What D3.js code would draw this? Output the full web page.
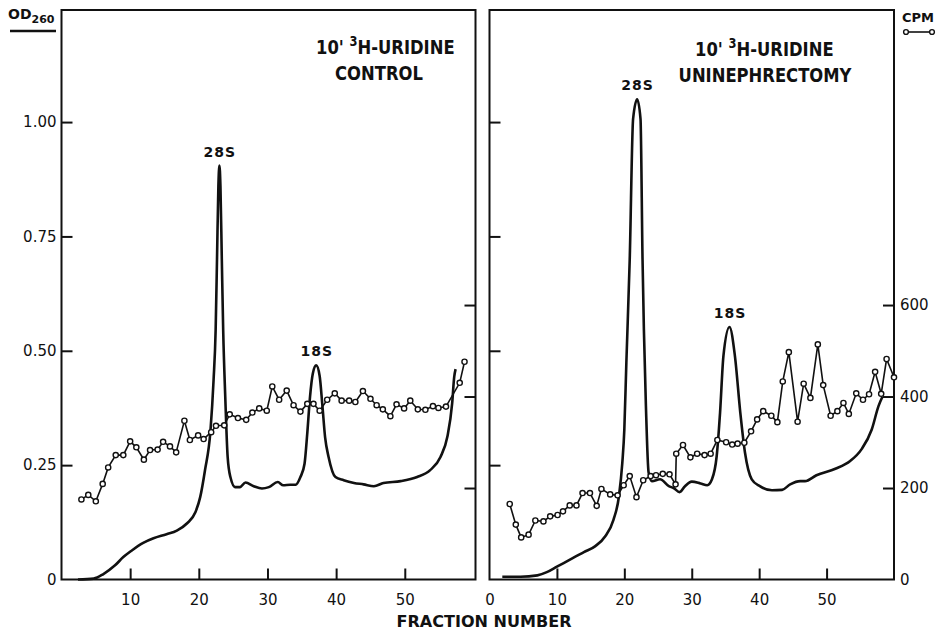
<!DOCTYPE html>
<html>
<head>
<meta charset="utf-8">
<script src="https://cdn.jsdelivr.net/npm/d3@7"></script>
<style>
  html, body { margin: 0; padding: 0; background: #fff; }
  svg { display: block; }
  text { fill: #111; }
</style>
</head>
<body>
<svg id="chart" width="941" height="632"></svg>
<script>
// ---------------- DATA ----------------
// Control panel, OD260 trace: [fraction, OD]
const controlOD = [
  [2.4,0.000],[4.7,0.002],[6.1,0.012],[7.8,0.031],[9.0,0.049],[10.2,0.063],[11.9,0.080],
  [13.4,0.090],[15.3,0.099],[16.8,0.107],[18.3,0.123],[19.5,0.147],[20.2,0.180],[20.9,0.239],
  [21.7,0.326],[22.15,0.436],[22.45,0.545],[22.65,0.700],[22.85,0.860],[23.0,0.905],
  [23.15,0.860],[23.35,0.700],[23.55,0.545],[23.85,0.400],[24.2,0.268],[24.6,0.224],
  [25.3,0.202],[26.0,0.202],[26.8,0.212],[28.0,0.204],[29.2,0.199],[30.2,0.202],[31.5,0.213],
  [32.3,0.206],[33.3,0.207],[34.1,0.207],[34.8,0.224],[35.4,0.253],[35.8,0.320],[36.2,0.400],
  [36.6,0.450],[37.1,0.468],[37.6,0.445],[38.0,0.380],[38.4,0.310],[38.9,0.268],[39.9,0.224],
  [41.1,0.217],[42.6,0.211],[44.0,0.208],[45.5,0.204],[46.9,0.211],[49.4,0.215],[51.8,0.224],
  [53.7,0.239],[55.2,0.268],[56.2,0.312],[56.9,0.385],[57.2,0.443],[57.4,0.460]
];
// Control panel, CPM
const controlCpmFraction = [2.9,3.9,5.0,6.0,6.8,7.9,9.0,10.0,10.9,12.0,12.9,14.0,14.8,15.8,16.7,17.9,18.7,19.9,20.7,21.8,22.5,23.7,24.5,25.7,26.9,27.8,28.8,29.9,30.7,31.7,32.8,33.8,34.8,35.8,36.7,37.6,38.7,39.8,40.8,41.9,42.8,43.9,45.0,45.9,46.8,47.9,48.8,49.9,50.8,51.9,53.0,54.1,54.9,56.0,58.0,58.7];
const controlCpm = [175,185,171,209,245,272,272,302,289,262,283,284,301,291,278,347,305,315,307,322,336,337,361,353,349,365,374,369,422,393,413,381,367,384,384,369,393,407,391,391,388,412,395,381,372,357,383,374,391,372,371,379,375,378,430,476];

// Uninephrectomy panel, OD260 trace
const uniOD = [
  [1.9,0.006],[4.6,0.006],[7.1,0.009],[8.5,0.016],[10.0,0.028],[12.0,0.044],[14.0,0.060],
  [15.7,0.073],[17.2,0.095],[18.4,0.131],[19.2,0.182],[19.7,0.255],[20.0,0.328],[20.3,0.474],
  [20.8,0.700],[21.3,1.007],[21.9,1.050],[22.4,1.007],[22.7,0.700],[22.9,0.547],[23.2,0.380],
  [23.6,0.234],[24.1,0.215],[25.3,0.219],[26.6,0.204],[27.3,0.200],[28.2,0.191],[29.0,0.204],
  [30.0,0.214],[31.3,0.210],[32.3,0.206],[33.0,0.219],[33.7,0.270],[34.2,0.365],[34.7,0.489],
  [35.6,0.552],[36.4,0.489],[37.2,0.365],[37.9,0.277],[38.9,0.219],[40.1,0.204],[41.9,0.195],
  [43.4,0.196],[44.6,0.208],[46.1,0.215],[46.8,0.215],[48.5,0.228],[51.3,0.242],[53.5,0.259],
  [55.2,0.285],[56.7,0.328],[57.7,0.379],[58.3,0.400]
];
const uniCpmFraction = [3.0,3.9,4.7,5.8,6.8,8.0,9.0,10.1,10.9,11.9,12.9,13.8,14.9,15.9,16.6,17.9,19.0,19.9,20.8,21.8,22.8,23.9,24.7,25.7,26.7,27.6,27.7,28.7,29.8,30.8,31.9,32.8,33.8,35.1,36.0,36.8,37.8,38.8,39.7,40.6,41.8,42.7,43.5,44.4,45.7,46.6,47.6,48.7,49.5,50.6,51.6,52.5,53.3,54.4,55.4,56.3,57.2,58.1,58.9,60.0];
const uniCpm = [165,120,92,98,129,127,138,141,149,162,162,189,189,161,198,186,184,206,226,180,217,226,228,231,230,208,275,294,267,275,272,275,305,300,295,297,299,324,350,368,358,344,433,497,345,428,397,514,425,358,368,386,362,407,393,405,454,406,482,442];

// Axis ticks
const xTicks = [10, 20, 30, 40, 50];
const odTicks = [0, 0.25, 0.5, 0.75, 1.0];
const odTickLabels = ["0", "0.25", "0.50", "0.75", "1.00"];
const cpmTicks = [0, 200, 400, 600];
const cpmTickLabels = ["0", "200", "400", "600"];

// Titles / labels
const panelTitles = [
  { line1a: "10' ", sup: "3", line1b: "H-URIDINE", line2: "CONTROL" },
  { line1a: "10' ", sup: "3", line1b: "H-URIDINE", line2: "UNINEPHRECTOMY" }
];
const peakLabels = [
  [{ text: "28S", f: 23.0, od: 0.905 }, { text: "18S", f: 37.1, od: 0.468 }],
  [{ text: "28S", f: 21.9, od: 1.05 }, { text: "18S", f: 35.6, od: 0.552 }]
];

// ---------------- DRAWING ----------------
const svg = d3.select("#chart");
const FONT = "'DejaVu Sans', sans-serif";

const yTop = 10, yBottom = 579.5;
const yOD = d3.scaleLinear().domain([0, 1.245]).range([yBottom, yTop]);
const yCPM = d3.scaleLinear().domain([0, 1245]).range([yBottom, yTop]);

const panels = [
  { x: d3.scaleLinear().domain([0, 60.3]).range([61.5, 475.5]), od: controlOD, cf: controlCpmFraction, cv: controlCpm },
  { x: d3.scaleLinear().domain([0, 60]).range([489.5, 894]), od: uniOD, cf: uniCpmFraction, cv: uniCpm }
];

const TICK = 11;

panels.forEach((p, i) => {
  const g = svg.append("g");
  const x = p.x;
  const [x0, x1] = x.range();

  // frame
  g.append("rect")
    .attr("x", x0).attr("y", yTop)
    .attr("width", x1 - x0).attr("height", yBottom - yTop)
    .attr("fill", "none").attr("stroke", "#111").attr("stroke-width", 2);

  // bottom axis (inward ticks)
  const bottom = g.append("g").attr("transform", `translate(0,${yBottom})`)
    .call(d3.axisBottom(x).tickValues(i === 0 ? xTicks : [0].concat(xTicks))
      .tickSize(-TICK).tickPadding(TICK + 4).tickFormat(d3.format("d")));
  bottom.select(".domain").remove();
  bottom.selectAll(".tick line").attr("stroke", "#111").attr("stroke-width", 2)
    .filter(d => d === 0).remove();
  bottom.selectAll(".tick text").attr("font-family", FONT).attr("font-size", 15)
    .attr("fill", "#111");

  // left OD axis (inward ticks)
  const left = g.append("g").attr("transform", `translate(${x0},0)`)
    .call(d3.axisLeft(yOD).tickValues(odTicks).tickSize(-TICK)
      .tickPadding(5).tickFormat((d, k) => odTickLabels[k]));
  left.select(".domain").remove();
  left.selectAll(".tick line").attr("stroke", "#111").attr("stroke-width", 2)
    .filter(d => d === 0).remove();
  left.selectAll(".tick text").attr("font-family", FONT).attr("font-size", 15).attr("fill", "#111");
  if (i === 1) left.selectAll(".tick text").remove();

  // right CPM axis (inward ticks)
  const right = g.append("g").attr("transform", `translate(${x1},0)`)
    .call(d3.axisRight(yCPM).tickValues(cpmTicks)
      .tickSize(-TICK).tickPadding(6).tickFormat((d, k) => cpmTickLabels[k]));
  right.select(".domain").remove();
  right.selectAll(".tick line").attr("stroke", "#111").attr("stroke-width", 2)
    .filter(d => d === 0).remove();
  right.selectAll(".tick text").attr("font-family", FONT).attr("font-size", 15).attr("fill", "#111");
  if (i === 0) right.selectAll(".tick text").remove();

  // OD trace
  const odLine = d3.line().x(d => x(d[0])).y(d => yOD(d[1])).curve(d3.curveMonotoneX);
  g.append("path").datum(p.od).attr("d", odLine)
    .attr("fill", "none").attr("stroke", "#111").attr("stroke-width", 2.6)
    .attr("stroke-linejoin", "round");

  // CPM trace
  const cpmData = p.cf.map((f, k) => [f, p.cv[k]]);
  const cpmLine = d3.line().x(d => x(d[0])).y(d => yCPM(d[1]));
  g.append("path").datum(cpmData).attr("d", cpmLine)
    .attr("fill", "none").attr("stroke", "#111").attr("stroke-width", 1.6);
  g.selectAll("circle.pt").data(cpmData).join("circle")
    .attr("class", "pt")
    .attr("cx", d => x(d[0])).attr("cy", d => yCPM(d[1])).attr("r", 2.6)
    .attr("fill", "#fff").attr("stroke", "#111").attr("stroke-width", 1.4);

  // peak labels
  peakLabels[i].forEach(pl => {
    g.append("text")
      .attr("x", x(pl.f) + 0.5).attr("y", yOD(pl.od) - 9)
      .attr("text-anchor", "middle")
      .attr("font-family", FONT).attr("font-weight", "bold").attr("font-size", 14)
      .attr("letter-spacing", 1)
      .text(pl.text);
  });

  // panel title (condensed lettering via horizontal scale)
  const t = panelTitles[i];
  const titleX = i === 0 ? 316 : 695;
  const titleY1 = i === 0 ? 54 : 56;
  const line1 = g.append("text")
    .attr("transform", `translate(${titleX},${titleY1}) scale(0.82,1)`)
    .attr("font-family", FONT).attr("font-weight", "bold").attr("font-size", 20);
  line1.append("tspan").text(t.line1a);
  line1.append("tspan").attr("font-size", 14).attr("dy", -8).text(t.sup);
  line1.append("tspan").attr("dy", 8).text(t.line1b);
  g.append("text")
    .attr("transform", `translate(${i === 0 ? 379 : 765},${i === 0 ? 80 : 82}) scale(0.82,1)`)
    .attr("text-anchor", "middle")
    .attr("font-family", FONT).attr("font-weight", "bold").attr("font-size", 20)
    .text(t.line2);
});

// OD260 label, top-left
const odLab = svg.append("text").attr("x", 8).attr("y", 19)
  .attr("font-family", FONT).attr("font-weight", "bold").attr("font-size", 14);
odLab.append("tspan").text("OD");
odLab.append("tspan").attr("font-size", 11).attr("dy", 4).text("260");
svg.append("line").attr("x1", 10).attr("x2", 56).attr("y1", 31).attr("y2", 31)
  .attr("stroke", "#111").attr("stroke-width", 2.5);

// CPM label, top-right
svg.append("text").attr("x", 918).attr("y", 22).attr("text-anchor", "middle")
  .attr("font-family", FONT).attr("font-weight", "bold").attr("font-size", 13)
  .text("CPM");
svg.append("line").attr("x1", 906).attr("x2", 932).attr("y1", 32).attr("y2", 32)
  .attr("stroke", "#111").attr("stroke-width", 1.6);
svg.selectAll("circle.leg").data([906, 932]).join("circle").attr("class", "leg")
  .attr("cx", d => d).attr("cy", 32).attr("r", 2.4)
  .attr("fill", "#fff").attr("stroke", "#111").attr("stroke-width", 1.4);

// x-axis title
svg.append("text").attr("x", 484).attr("y", 627).attr("text-anchor", "middle")
  .attr("font-family", FONT).attr("font-weight", "bold").attr("font-size", 16)
  .attr("textLength", 175).attr("lengthAdjust", "spacingAndGlyphs")
  .text("FRACTION NUMBER");
</script>
</body>
</html>
